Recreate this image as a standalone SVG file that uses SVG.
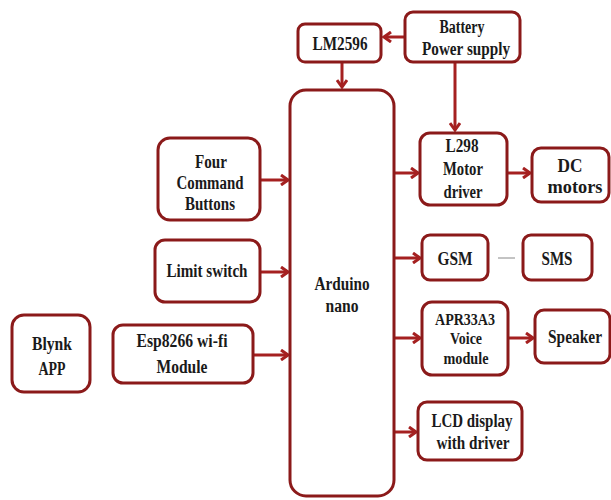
<svg xmlns="http://www.w3.org/2000/svg" width="611" height="500" viewBox="0 0 611 500">
<defs>
<style>
.b{fill:#fff;stroke:#8b1a1a;stroke-width:3}
.t{font-family:"Liberation Serif","Times New Roman",serif;font-weight:bold;font-size:18px;fill:#1a1a1a;text-anchor:middle}
.s{font-size:16px}
.c{fill:none;stroke:#a52020;stroke-width:3}
</style>
<marker id="a" markerWidth="10" markerHeight="12" refX="8" refY="6" orient="auto" markerUnits="userSpaceOnUse">
<polyline points="1,1 8,6 1,11" fill="none" stroke="#a52020" stroke-width="3"/>
</marker>
</defs>
<rect width="611" height="500" fill="#fff"/>
<g id="connectors">
<line class="c" x1="405" y1="37" x2="384" y2="37" marker-end="url(#a)"/>
<line class="c" x1="342" y1="62" x2="342" y2="87" marker-end="url(#a)"/>
<line class="c" x1="455" y1="62" x2="455" y2="130" marker-end="url(#a)"/>
<line class="c" x1="394" y1="173" x2="418" y2="173" marker-end="url(#a)"/>
<line class="c" x1="507" y1="173" x2="530" y2="173" marker-end="url(#a)"/>
<line class="c" x1="394" y1="258" x2="420" y2="258" marker-end="url(#a)"/>
<line x1="498" y1="258" x2="515" y2="258" stroke="#888" stroke-width="1"/>
<line class="c" x1="394" y1="338" x2="420" y2="338" marker-end="url(#a)"/>
<line class="c" x1="508" y1="338" x2="533" y2="338" marker-end="url(#a)"/>
<line class="c" x1="394" y1="432" x2="416" y2="432" marker-end="url(#a)"/>
<line class="c" x1="260" y1="180" x2="288" y2="180" marker-end="url(#a)"/>
<line class="c" x1="260" y1="272" x2="288" y2="272" marker-end="url(#a)"/>
<line class="c" x1="253" y1="355" x2="288" y2="355" marker-end="url(#a)"/>
</g>
<g id="lm2596"><rect class="b" x="298" y="24" width="83" height="38" rx="7"/><text class="t" x="340" y="50" textLength="55" lengthAdjust="spacingAndGlyphs">LM2596</text></g>
<g id="battery"><rect class="b" x="405" y="12" width="115" height="50" rx="8"/><text class="t" x="462" y="33" textLength="45" lengthAdjust="spacingAndGlyphs">Battery</text><text class="t" x="466" y="55" textLength="88" lengthAdjust="spacingAndGlyphs">Power supply</text></g>
<g id="arduino"><rect class="b" x="290" y="90" width="104" height="406" rx="16"/><text class="t" x="342" y="290" textLength="55" lengthAdjust="spacingAndGlyphs">Arduino</text><text class="t" x="342" y="312" textLength="33" lengthAdjust="spacingAndGlyphs">nano</text></g>
<g id="buttons"><rect class="b" x="158" y="138" width="102" height="82" rx="12"/><text class="t" x="211" y="168" textLength="32" lengthAdjust="spacingAndGlyphs">Four</text><text class="t" x="210" y="189" textLength="67" lengthAdjust="spacingAndGlyphs">Command</text><text class="t" x="210" y="210" textLength="50" lengthAdjust="spacingAndGlyphs">Buttons</text></g>
<g id="limit"><rect class="b" x="155" y="240" width="105" height="62" rx="10"/><text class="t" x="207" y="277" textLength="81" lengthAdjust="spacingAndGlyphs">Limit switch</text></g>
<g id="blynk"><rect class="b" x="12" y="315" width="78" height="77" rx="12"/><text class="t" x="52" y="350" textLength="40" lengthAdjust="spacingAndGlyphs">Blynk</text><text class="t" x="52" y="375" textLength="27" lengthAdjust="spacingAndGlyphs">APP</text></g>
<g id="esp"><rect class="b" x="113" y="325" width="140" height="58" rx="10"/><text class="t" x="182" y="347" textLength="91" lengthAdjust="spacingAndGlyphs">Esp8266 wi-fi</text><text class="t" x="182" y="373" textLength="51" lengthAdjust="spacingAndGlyphs">Module</text></g>
<g id="l298"><rect class="b" x="420" y="133" width="87" height="72" rx="10"/><text class="t" x="462" y="152" textLength="33" lengthAdjust="spacingAndGlyphs">L298</text><text class="t" x="463" y="175" textLength="40" lengthAdjust="spacingAndGlyphs">Motor</text><text class="t" x="463" y="198" textLength="39" lengthAdjust="spacingAndGlyphs">driver</text></g>
<g id="dc"><rect class="b" x="532" y="148" width="77" height="54" rx="9"/><text class="t" x="570" y="172" textLength="25" lengthAdjust="spacingAndGlyphs">DC</text><text class="t" x="575" y="193" textLength="55" lengthAdjust="spacingAndGlyphs">motors</text></g>
<g id="gsm"><rect class="b" x="422" y="235" width="66" height="45" rx="8"/><text class="t" x="455" y="265" textLength="35" lengthAdjust="spacingAndGlyphs">GSM</text></g>
<g id="sms"><rect class="b" x="523" y="235" width="69" height="45" rx="8"/><text class="t" x="557" y="265" textLength="31" lengthAdjust="spacingAndGlyphs">SMS</text></g>
<g id="apr"><rect class="b" x="422" y="302" width="86" height="73" rx="10"/><text class="t s" x="465" y="325" textLength="60" lengthAdjust="spacingAndGlyphs">APR33A3</text><text class="t s" x="466" y="344" textLength="32" lengthAdjust="spacingAndGlyphs">Voice</text><text class="t s" x="466" y="364" textLength="45" lengthAdjust="spacingAndGlyphs">module</text></g>
<g id="speaker"><rect class="b" x="535" y="310" width="75" height="53" rx="9"/><text class="t" x="575" y="343" textLength="54" lengthAdjust="spacingAndGlyphs">Speaker</text></g>
<g id="lcd"><rect class="b" x="418" y="402" width="104" height="58" rx="9"/><text class="t" x="472" y="427" textLength="81" lengthAdjust="spacingAndGlyphs">LCD display</text><text class="t" x="473" y="449" textLength="73" lengthAdjust="spacingAndGlyphs">with driver</text></g>
</svg>
